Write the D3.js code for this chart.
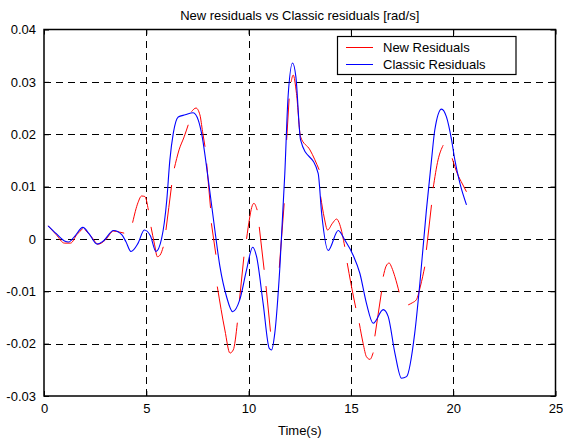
<!DOCTYPE html>
<html><head><meta charset="utf-8">
<script src="https://cdn.jsdelivr.net/npm/d3@7"></script>
<style>body{margin:0;background:#fff}svg{display:block}text{font-family:"Liberation Sans",Arial,sans-serif;font-size:13px;fill:#000}</style>
</head><body><svg id="c" width="563" height="439"></svg>
<script>
const xTicks=[0,5,10,15,20,25];
const yTicks=[-0.03,-0.02,-0.01,0,0.01,0.02,0.03,0.04];
const yTickLabels=["-0.03","-0.02","-0.01","0","0.01","0.02","0.03","0.04"];
const seriesNames=["New Residuals","Classic Residuals"];
const titleText="New residuals vs Classic residuals [rad/s]";
const xLabelText="Time(s)";
const classicT=[0.2,0.6,1.0,1.2,1.5,1.9,2.2,2.6,2.9,3.4,3.8,4.0,4.25,4.6,4.9,5.2,5.47,5.75,6.0,6.15,6.32,6.56,6.9,7.29,7.54,7.7,8.03,8.35,8.6,8.92,9.22,9.57,9.9,10.2,10.39,10.71,11.01,11.12,11.28,11.53,11.77,11.93,12.15,12.31,12.54,13.4,13.57,13.89,14.38,14.7,15.11,15.44,15.76,16.09,16.58,16.82,17.15,17.47,17.72,18.12,18.37,18.69,18.94,19.1,19.43,19.67,19.92,20.08,20.33,20.65];
const classicV=[0.0025,0.0010,-0.0004,-0.0006,0.0005,0.0022,0.0010,-0.0010,-0.0004,0.0016,0.0008,-0.0005,-0.0024,-0.0008,0.0017,0.0006,-0.0024,0.0001,0.0074,0.0150,0.0202,0.0233,0.0237,0.0241,0.0227,0.0202,0.0113,0.0017,-0.0053,-0.0110,-0.0139,-0.0116,-0.0059,-0.0016,-0.0034,-0.0123,-0.0209,-0.0212,-0.0180,-0.0053,0.0125,0.0272,0.0336,0.0310,0.0189,0.0125,0.0049,-0.0022,0.0016,-0.0002,-0.0031,-0.0066,-0.0123,-0.0161,-0.0135,-0.0148,-0.0218,-0.0266,-0.0263,-0.0180,-0.0085,0.0055,0.0151,0.0208,0.0248,0.0233,0.0189,0.0151,0.0106,0.0065];
// New residuals: broken into separate pieces, each [t, value]
const newSegments=[
 [[0.2,0.0025],[0.6,0.0008],[1.0,-0.0008],[1.3,-0.0008],[1.6,0.0008],[1.9,0.0020]],
 [[2.0,0.0018],[2.3,0.0005],[2.65,-0.0010],[3.0,-0.0002],[3.4,0.0015],[3.7,0.0013],[3.92,0.0011]],
 [[4.33,0.0031],[4.6,0.0070],[4.77,0.0082],[4.93,0.0081],[5.1,0.0055]],
 [[5.23,0.0023],[5.4,-0.0010],[5.54,-0.0034],[5.67,-0.0031],[5.83,-0.0015]],
 [[5.96,0.0017],[6.1,0.0060],[6.24,0.0103]],
 [[6.37,0.0135],[6.6,0.0170],[6.85,0.0195],[7.05,0.0218]],
 [[7.21,0.0243],[7.43,0.0250],[7.62,0.0237],[7.75,0.0205],[7.87,0.0176]],
 [[7.95,0.0144],[8.14,0.0059]],
 [[8.18,0.0030],[8.4,-0.0030]],
 [[8.47,-0.0091],[8.84,-0.0174],[9.09,-0.0218],[9.25,-0.0212],[9.45,-0.0160]],
 [[9.55,-0.0118],[9.77,-0.0034]],
 [[9.9,0.0000],[10.05,0.0040],[10.15,0.0060],[10.26,0.0068],[10.42,0.0055]],
 [[10.52,0.0023],[10.76,-0.0059]],
 [[10.85,-0.0090],[11.07,-0.0177]],
 [[11.5,-0.0055],[11.74,0.0068]],
 [[11.86,0.0189],[11.98,0.0268]],
 [[12.08,0.0300],[12.18,0.0313],[12.34,0.0278],[12.54,0.0195],[13.0,0.0170],[13.45,0.0132]],
 [[13.52,0.0081],[13.7,0.0040],[13.86,0.0017],[14.1,0.0030],[14.3,0.0038],[14.46,0.0027],[14.7,-0.0015]],
 [[14.82,-0.0046],[15.0,-0.0085],[15.24,-0.0132]],
 [[15.41,-0.0161],[15.6,-0.0200],[15.76,-0.0225],[15.93,-0.0230],[16.09,-0.0217]],
 [[16.17,-0.0186],[16.5,-0.0100]],
 [[16.58,-0.0072],[16.72,-0.0052],[16.87,-0.0046],[17.0,-0.0055],[17.15,-0.0072],[17.36,-0.0102]],
 [[17.8,-0.0126],[18.0,-0.0122],[18.2,-0.0116],[18.4,-0.0090],[18.61,-0.0053]],
 [[18.69,-0.0021],[18.94,0.0065]],
 [[19.02,0.0097],[19.26,0.0151],[19.51,0.0179]],
 [[19.95,0.0154],[20.2,0.0125],[20.45,0.0105],[20.65,0.0090]]
];

const L=44,R=555.5,T=29.5,B=396;
const x=d3.scaleLinear().domain([0,25]).range([L,R]);
const y=d3.scaleLinear().domain([-0.03,0.04]).range([B,T]);
const svg=d3.select("#c");

// grid
const g=svg.append("g").attr("stroke","#000").attr("stroke-width",1).attr("stroke-dasharray","7,5").attr("shape-rendering","crispEdges");
xTicks.filter(t=>t>0&&t<25).forEach(t=>g.append("line").attr("x1",Math.round(x(t))+0.5).attr("x2",Math.round(x(t))+0.5).attr("y1",B).attr("y2",T));
yTicks.filter(t=>t>-0.03&&t<0.04).forEach(t=>g.append("line").attr("y1",Math.round(y(t))+0.5).attr("y2",Math.round(y(t))+0.5).attr("x1",L).attr("x2",R));

// axes (ticks inward)
const xb=d3.axisBottom(x).tickValues(xTicks).tickFormat(d3.format("d")).tickSizeInner(-5).tickSizeOuter(0).tickPadding(8);
const yl=d3.axisLeft(y).tickValues(yTicks).tickFormat((d,i)=>yTickLabels[i]).tickSizeInner(-5).tickSizeOuter(0).tickPadding(8);
const xt=d3.axisTop(x).tickValues(xTicks).tickFormat("").tickSizeInner(-5).tickSizeOuter(0);
const yr=d3.axisRight(y).tickValues(yTicks).tickFormat("").tickSizeInner(-5).tickSizeOuter(0);
function style(sel){sel.selectAll("path").remove();sel.selectAll("line").attr("stroke","#000");sel.selectAll("text").attr("font-size",13).attr("font-family","Liberation Sans, Arial, sans-serif").attr("fill","#000");}
svg.append("g").attr("transform",`translate(0,${B})`).call(xb).call(style);
svg.append("g").attr("transform",`translate(${L},0)`).call(yl).call(style);
svg.append("g").attr("transform",`translate(0,${T})`).call(xt).call(style);
svg.append("g").attr("transform",`translate(${R},0)`).call(yr).call(style);
svg.append("rect").attr("x",L).attr("y",T).attr("width",R-L).attr("height",B-T).attr("fill","none").attr("stroke","#000").attr("stroke-width",1.5);

// data lines
const line=d3.line().x(d=>x(d[0])).y(d=>y(d[1])).curve(d3.curveMonotoneX);
newSegments.forEach(s=>svg.append("path").attr("d",line(s)).attr("fill","none").attr("stroke","#ff0000").attr("stroke-width",1));
const classic=classicT.map((t,i)=>[t,classicV[i]]);
svg.append("path").attr("d",line(classic)).attr("fill","none").attr("stroke","#0000ff").attr("stroke-width",1.1);

// legend
const lg=svg.append("g");
lg.append("rect").attr("x",337.5).attr("y",36.5).attr("width",178.5).attr("height",38).attr("fill","#fff").attr("stroke","#000").attr("stroke-width",1.2);
const colors=["#ff0000","#0000ff"];
seriesNames.forEach((n,i)=>{
  const yy=47.5+i*17;
  lg.append("line").attr("x1",346).attr("x2",373).attr("y1",yy).attr("y2",yy).attr("stroke",colors[i]).attr("stroke-width",1);
  lg.append("text").attr("x",383).attr("y",yy+4.5).text(n);
});

svg.append("text").attr("x",(L+R)/2).attr("y",20).attr("text-anchor","middle").text(titleText);
svg.append("text").attr("x",(L+R)/2).attr("y",435).attr("text-anchor","middle").text(xLabelText);
</script></body></html>
